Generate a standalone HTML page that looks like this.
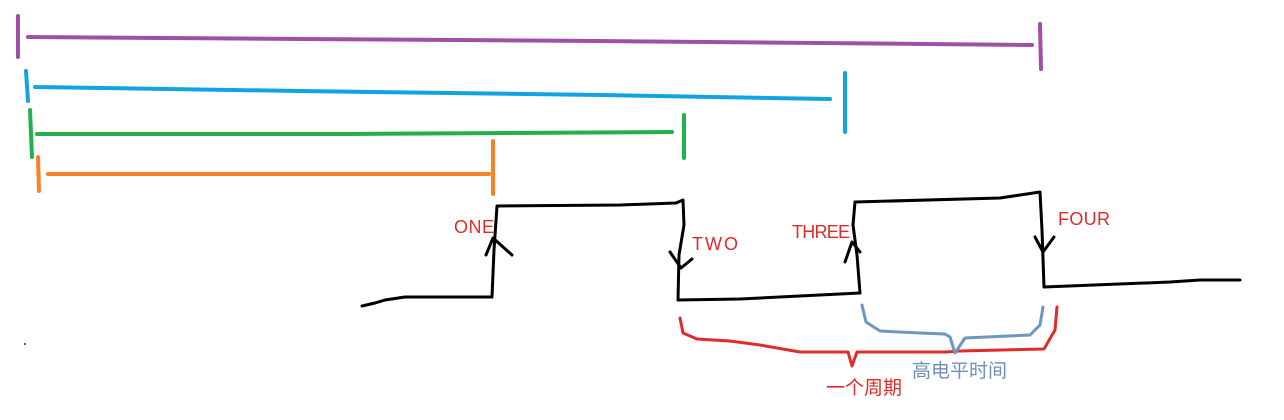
<!DOCTYPE html>
<html><head><meta charset="utf-8"><style>
html,body{margin:0;padding:0;background:#fff;}
svg{display:block;}
text{font-family:"Liberation Sans","Noto Sans CJK SC",sans-serif;}
</style></head><body>
<svg width="1284" height="420" viewBox="0 0 1284 420" xmlns="http://www.w3.org/2000/svg">
<g fill="none" stroke-linecap="round" stroke-linejoin="round" stroke-width="4">
<g stroke="#a04fa6">
<line x1="18" y1="16" x2="18" y2="57"/>
<polyline points="28,37 300,39 600,41 1032,45"/>
<line x1="1040" y1="24" x2="1041" y2="69"/>
</g>
<g stroke="#12a3e2">
<line x1="26" y1="71" x2="28" y2="101"/>
<polyline points="35,87 300,91 600,95 830,99"/>
<line x1="845" y1="73" x2="845" y2="132"/>
</g>
<g stroke="#22b14c">
<line x1="30" y1="110" x2="32" y2="157"/>
<polyline points="37,134 350,134 672,132"/>
<line x1="684" y1="115" x2="684" y2="158"/>
</g>
<g stroke="#fb8128">
<line x1="38" y1="157" x2="39" y2="191"/>
<line x1="48" y1="174" x2="489" y2="174"/>
<line x1="493" y1="141" x2="493" y2="194"/>
</g>
<g stroke="#000" stroke-width="3">
<polyline points="362,306 375,303 385,300 405,297 492,297 494,250 497,206 620,205 676,203 683,200 684,225 679,255 678,300 740,299 860,293 857,255 853,225 855,202 1000,198 1040,192 1042,230 1044,287 1170,282 1200,280 1240,280"/>
<polyline points="486,255 493,238 512,255"/>
<polyline points="670,252 681,268 692,259"/>
<polyline points="845,262 852,242 860,252"/>
<polyline points="1035,237 1043,252 1054,237"/>
</g>
<polyline stroke="#e12a2a" stroke-width="3" points="680,318 683,333 697,339 730,341 760,345 800,352 848,352 852,366 857,352 900,352 946,352 960,351 1044,349 1055,330 1057,307"/>
<polyline stroke="#7096c0" stroke-width="3" points="862,305 866,322 880,331 920,333 945,334 950,337 955,353 965,338 1030,335 1040,325 1043,307"/>
</g>
<circle cx="25" cy="344" r="1" fill="#333"/>
<g fill="#e12a2a" font-size="18">
<text x="454" y="233" textLength="40">ONE</text>
<text x="692" y="250" textLength="46">TWO</text>
<text x="792" y="238" textLength="58">THREE</text>
<text x="1058" y="225" textLength="52">FOUR</text>
<text x="826" y="394" font-size="19">一个周期</text>
</g>
<text x="912" y="377" fill="#6d8fb8" font-size="19">高电平时间</text>
</svg>
</body></html>
